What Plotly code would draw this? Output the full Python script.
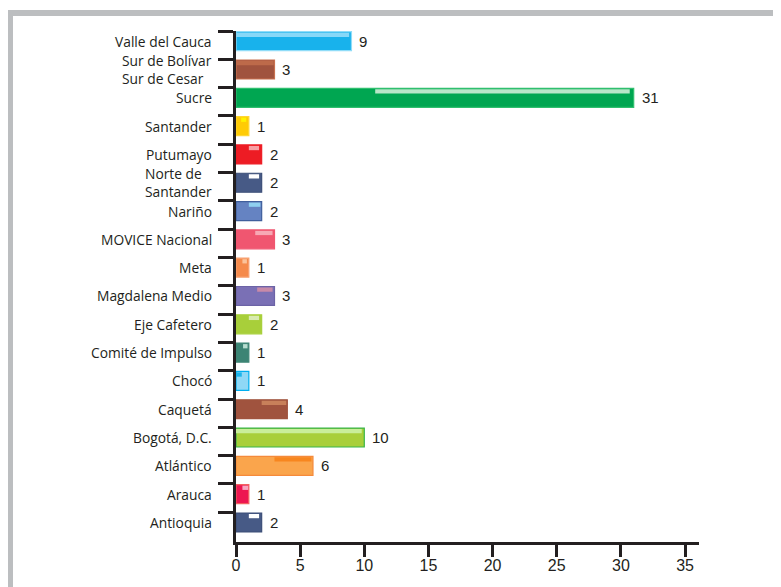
import plotly.graph_objects as go

categories = ["Valle del Cauca", "Sur de Bolívar<br>Sur de Cesar", "Sucre", "Santander",
              "Putumayo", "Norte de<br>Santander", "Nariño", "MOVICE Nacional", "Meta",
              "Magdalena Medio", "Eje Cafetero", "Comité de Impulso", "Chocó", "Caquetá",
              "Bogotá, D.C.", "Atlántico", "Arauca", "Antioquia"]
values = [9, 3, 31, 1, 2, 2, 2, 3, 1, 3, 2, 1, 1, 4, 10, 6, 1, 2]
x_ticks = [0, 5, 10, 15, 20, 25, 30, 35]

# styling
bar_colors = ["#18b2ec", "#a0533e", "#00a651", "#ffcb05", "#ed1c24", "#475a86", "#6583c2",
              "#f05670", "#f58a4b", "#7a70b5", "#a8cf3a", "#3c8474", "#8fd8f6", "#a0533e",
              "#a8cf3a", "#faa54c", "#ed1651", "#475a86"]
edge_colors = ["#8fdcf8", "#c8704e", "#2fbf6e", "#ffd633", "#ed1c24", "#3d4f78", "#405f9c",
               "#f05670", "#f7a070", "#6c63a6", "#a8cf3a", "#3c8474", "#00aeef", "#a0533e",
               "#39b54a", "#f58a3b", "#f46060", "#3d4f78"]
hl_colors = ["#86d8f8", "#bd6a4a", "#b8e6c8", "#fff200", "#f7a0a4", "#ffffff", "#8fd0f0",
             "#f7a8b4", "#fbc39a", "#c88aa8", "#d8eab0", "#b7ddd0", "#1ab4ec", "#c8805a",
             "#c9ee9a", "#f7861f", "#f6a6c0", "#ffffff"]
hl_start = [0.0, 0.0, 0.35, 0.4, 0.5, 0.5, 0.5, 0.5, 0.5, 0.55, 0.5, 0.55, 0.0, 0.5,
            0.0, 0.5, 0.5, 0.5]
hl_end = [0.98, 0.98, 0.99, 0.8, 0.9, 0.9, 0.95, 0.95, 0.85, 0.95, 0.9, 0.9, 0.45, 0.98,
          0.98, 0.98, 0.95, 0.9]

OFF = 8  # page body margin
W, H = 781, 587
ML, MT, PW, PH = 236 - OFF, 31 - OFF, 463, 511
MR, MB = W - ML - PW, H - MT - PH
n = len(categories)
y_top, y_bot = -0.36, 17.69
y_pos = list(range(n))
INK = "#231f20"
LABEL_FONT = "Open Sans, sans-serif"
NUM_FONT = "Liberation Sans, Arial, sans-serif"

fig = go.Figure()
fig.add_trace(go.Bar(
    y=y_pos, x=values, orientation="h",
    marker=dict(color=bar_colors, line=dict(color=edge_colors, width=1.2)),
    width=0.67, hoverinfo="skip", showlegend=False,
))
fig.add_trace(go.Bar(
    y=y_pos, x=[v * (e - s) for v, s, e in zip(values, hl_start, hl_end)],
    base=[v * s for v, s in zip(values, hl_start)],
    orientation="h", marker=dict(color=hl_colors, line=dict(width=0)),
    width=0.15, offset=-0.30, hoverinfo="skip", showlegend=False,
))

annotations = []
for p, c, v in zip(y_pos, categories, values):
    annotations.append(dict(
        x=v, y=p, xref="x", yref="y", text=str(v), showarrow=False, xanchor="left",
        xshift=6, font=dict(family=NUM_FONT, size=15, color=INK)))
    annotations.append(dict(
        x=0, y=p, xref="paper", yref="y", showarrow=False, xanchor="right", yanchor="middle",
        align="left", xshift=-22, yshift=0, text=c,
        font=dict(family=LABEL_FONT, size=13.8, color=INK)))

def px_x(p):
    return (p - OFF - ML) / PW

def px_y(p):
    return 1 - (p - OFF - MT) / PH

shapes = [
    dict(type="rect", xref="paper", yref="paper", x0=px_x(7), x1=px_x(W + 20),
         y0=px_y(16), y1=px_y(10), fillcolor="#bcbec0", line=dict(width=0), layer="below"),
    dict(type="rect", xref="paper", yref="paper", x0=px_x(7), x1=px_x(13),
         y0=px_y(H + 20), y1=px_y(10), fillcolor="#bcbec0", line=dict(width=0), layer="below"),
]

fig.update_layout(
    width=W, height=H,
    margin=dict(l=ML, r=MR, t=MT, b=MB, autoexpand=False),
    paper_bgcolor="white", plot_bgcolor="white",
    barmode="overlay",
    shapes=shapes, annotations=annotations,
    font=dict(family=LABEL_FONT, color=INK),
    xaxis=dict(range=[0, 36.09], tickvals=x_ticks, ticktext=[str(t) for t in x_ticks],
               showgrid=False, zeroline=False, showline=True, linecolor=INK, linewidth=3,
               ticks="outside", ticklen=12, tickwidth=3, tickcolor=INK, ticklabelstandoff=-5,
               tickfont=dict(family=NUM_FONT, size=16, color=INK)),
    yaxis=dict(range=[y_bot, y_top], tickvals=[p + y_top for p in y_pos], showticklabels=False,
               showgrid=False, zeroline=False, showline=True, linecolor=INK, linewidth=3,
               ticks="outside", ticklen=15, tickwidth=3, tickcolor=INK),
)

fig.write_html("out.html")
